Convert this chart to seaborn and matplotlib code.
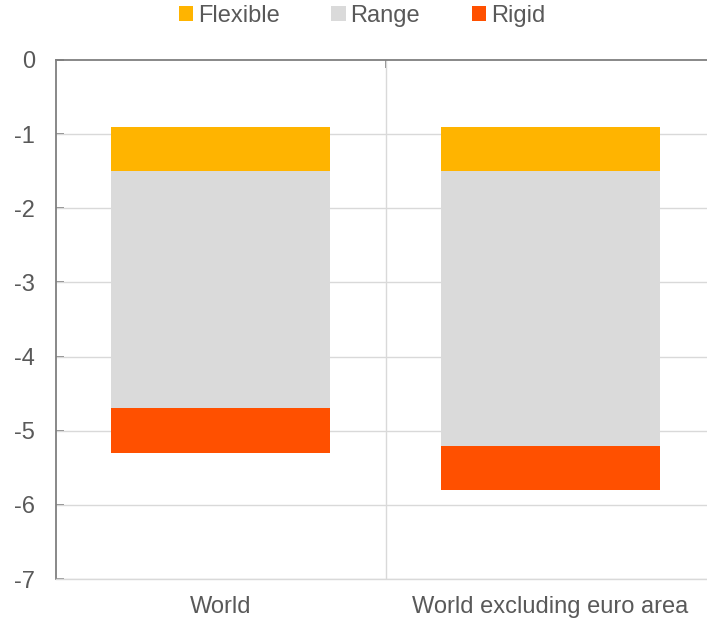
import matplotlib
matplotlib.use("Agg")
import matplotlib.pyplot as plt
from matplotlib.patches import Patch
import numpy as np
import pandas as pd
import seaborn as sns

# floating ranges (top / bottom of each segment)
regions = ["World", "World excluding euro area"]
flexible_top = [-0.9, -0.9]
flexible_bottom = [-1.5, -1.5]
range_bottom = [-4.7, -5.2]
rigid_bottom = [-5.3, -5.8]

series = ["Flexible", "Range", "Rigid"]
colors = {"Flexible": "#FFB400", "Range": "#DADADA", "Rigid": "#FF5000"}
yticks = [0, -1, -2, -3, -4, -5, -6, -7]

sns.set_theme(style="white")
plt.rcParams["font.family"] = ["Liberation Sans", "DejaVu Sans"]
text_col = "#595959"
axis_col = "#7F7F7F"
fs = 17

fig = plt.figure(figsize=(7.07, 6.19), dpi=100)
ax = fig.add_axes([56 / 707, 40 / 619, 1 - 56 / 707, 519 / 619])

segments = [
    ("Flexible", flexible_top, flexible_bottom),
    ("Range", flexible_bottom, range_bottom),
    ("Rigid", range_bottom, rigid_bottom),
]
for name, top, bot in segments:
    df = pd.DataFrame({"region": regions,
                       "height": np.array(bot) - np.array(top)})
    sns.barplot(data=df, x="region", y="height", bottom=top,
                color=colors[name], saturation=1, width=0.664,
                linewidth=0, ax=ax, zorder=3)

ax.set_ylim(-7, 0)
ax.set_xlim(-0.5, 1.475)
ax.set_yticks(yticks)
ax.set_yticklabels([str(t) for t in yticks])
ax.set_xlabel("")
ax.set_ylabel("")

for t in yticks[1:]:
    ax.axhline(t, color="#D9D9D9", lw=1, zorder=1)
ax.axvline(0.5, color="#D9D9D9", lw=1, zorder=1)

ax.spines["right"].set_visible(False)
ax.spines["bottom"].set_color("#D9D9D9")
ax.spines["bottom"].set_linewidth(1)
ax.spines["top"].set_color(axis_col)
ax.spines["top"].set_linewidth(1.3)
ax.spines["left"].set_color(axis_col)
ax.spines["left"].set_linewidth(1.3)

ax.set_xticks([0.5], minor=True)
ax.tick_params(axis="x", which="major", length=0, pad=12,
               labelsize=fs, labelcolor=text_col)
ax.tick_params(axis="x", which="minor", top=True, bottom=False,
               direction="in", length=6, width=1.3, color=axis_col)
ax.tick_params(axis="y", left=True, direction="in", length=6, width=1.3,
               color=axis_col, pad=15, labelsize=fs, labelcolor=text_col)

handles = [Patch(facecolor=colors[s], edgecolor="none", label=s)
           for s in series]
fig.legend(handles=handles, loc="center", bbox_to_anchor=(362 / 707, 1 - 16 / 619),
           ncol=3, frameon=False, fontsize=fs, handlelength=0.6,
           handleheight=0.6, handletextpad=0.2, columnspacing=2.2,
           labelcolor=text_col)

fig.savefig("out.png", dpi=100)
